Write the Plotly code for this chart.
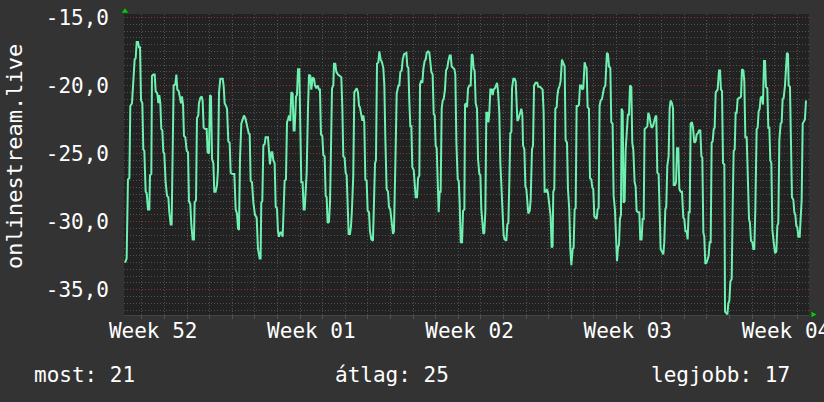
import plotly.graph_objects as go

# ---------------- data (hours since left edge of the graph, value) ----------------
part1 = [(1.1,-33.0),(2.8,-32.7),(4.2,-26.9),(5.7,-26.8),(6.7,-21.5),(8.5,-21.3),(9.9,-19.7),(11.3,-18.1),
         (12.4,-18.0),(13.5,-16.8),(14.9,-16.8),(15.9,-17.2),(17.0,-17.2),(18.1,-21.1),(19.5,-21.3),(20.5,-24.7),
         (21.6,-24.8),(23.0,-27.8),(24.1,-27.9),(25.5,-29.1),(26.9,-29.1),(27.6,-26.6),(29.0,-26.5),(29.7,-19.3),
         (31.2,-19.2),(32.6,-19.2),(33.6,-20.4),(35.4,-20.6),(36.5,-21.3),(37.5,-20.7),(38.6,-21.3),(39.6,-23.2),
         (40.7,-23.3),(41.8,-24.9),(42.8,-25.0),(44.2,-27.1),(45.7,-28.1),(47.1,-28.2),(48.1,-29.3),(49.6,-30.2),
         (50.6,-30.2),(51.7,-25.2),(52.7,-20.0),(54.5,-19.9),(55.6,-19.2),(56.6,-20.3),(58.1,-20.4),(59.5,-20.9),
         (60.5,-21.3),(61.6,-20.8),(62.7,-21.4),(63.7,-23.7),(65.1,-23.8),(66.6,-24.8),(68.0,-24.9),(69.0,-28.5),
         (70.4,-28.7),(71.5,-30.2),(72.9,-31.3),(74.3,-31.3),(75.0,-28.6),(76.5,-28.4),(77.5,-22.4),(78.9,-22.2),
         (79.6,-21.3),(81.1,-20.9),(82.5,-20.8),(83.5,-21.1),(84.6,-23.1),(86.4,-23.2),(87.8,-23.2),(88.8,-24.9),
         (90.3,-25.0),(91.3,-20.7),(92.4,-20.8),(93.5,-25.4),(94.9,-25.7),(95.9,-27.8),(97.3,-27.8),(98.8,-27.3),
         (99.8,-26.2),(100.9,-20.5),(102.3,-19.5),(103.4,-19.5),(104.8,-19.5),(105.8,-20.0),(106.9,-21.3),(108.3,-21.5),
         (109.4,-21.7),(110.8,-24.1),(112.2,-24.2),(113.3,-26.4),(115.0,-26.5),(117.2,-26.5),(118.6,-29.1),(120.0,-29.4),
         (121.1,-30.5),(122.1,-30.6),(123.2,-25.4),(124.6,-22.8),(126.0,-22.5),(127.4,-22.2),(128.9,-22.4),(129.9,-22.8),
         (131.3,-23.1),(132.4,-23.5),(133.5,-23.6),(134.5,-27.0),(135.9,-27.1),(137.4,-28.6),(139.1,-29.5),(140.9,-29.7),
         (142.3,-32.0)]

part2 = [(144.1,-32.7),(145.1,-32.7),(145.8,-28.6),(146.9,-28.5),(148.0,-24.4),(149.4,-24.3),(150.4,-23.8),(152.9,-23.8),
         (154.0,-24.8),(155.0,-25.8),(156.5,-24.9),(157.5,-24.9),(158.6,-25.5),(160.0,-25.7),(161.1,-28.9),(162.5,-29.0),
         (163.5,-30.7),(164.6,-31.1),(166.0,-30.8),(167.4,-30.8),(168.5,-31.1),(169.6,-28.6),(170.6,-27.0),(172.0,-26.9),
         (173.1,-22.7),(174.2,-22.5),(175.2,-22.2),(176.6,-22.6),(177.7,-20.5),(179.1,-20.6),(180.2,-23.3),(181.2,-23.3),
         (182.7,-20.8),(183.7,-20.7),(184.8,-18.8),(186.2,-18.8),(187.3,-22.0),(188.3,-27.1),(189.7,-27.1),(190.8,-29.1),
         (191.9,-29.1),(192.9,-27.1),(194.0,-26.4),(195.4,-21.7),(196.5,-19.2),(197.9,-19.3),(198.9,-20.3),(200.4,-19.4),
         (201.8,-19.5),(202.8,-20.0),(204.3,-20.2),(205.7,-20.0),(207.1,-20.3),(208.1,-20.3),(209.2,-23.6),(210.6,-23.7),
         (211.7,-25.1),(213.1,-25.2),(214.2,-28.1),(215.2,-28.2),(216.3,-30.1),(217.7,-30.0),(218.8,-28.6),(219.8,-24.8),
         (220.9,-20.2),(222.3,-20.0),(223.0,-18.4),(224.4,-18.4),(225.5,-19.0),(227.3,-19.2),(229.0,-19.3),(230.8,-19.4),
         (231.9,-21.7),(232.9,-25.2),(234.3,-25.3),(235.4,-26.4),(236.5,-26.6),(237.5,-28.6),(238.6,-30.9),(240.0,-30.9),
         (241.1,-30.3),(242.1,-29.1),(243.5,-26.6),(244.6,-20.5),(246.0,-20.3),(247.1,-20.2),(248.5,-20.5),(249.6,-21.5),
         (250.6,-21.6),(252.0,-22.2),(253.1,-22.6),(254.2,-22.2),(255.2,-22.7),(256.3,-26.9),(257.7,-27.0),(258.8,-29.2),
         (260.2,-29.3),(261.2,-30.7),(262.7,-31.3),(264.4,-31.4),(265.5,-29.1),(266.6,-25.7),(267.6,-25.5),(268.7,-18.4),
         (270.1,-18.3),(271.2,-17.5),(272.6,-18.1),(274.0,-18.3),(275.4,-18.7),(276.5,-20.0),(277.5,-23.7),(278.9,-27.6),
         (280.4,-27.8),(281.4,-28.9),(282.8,-29.1),(284.3,-30.2),(285.7,-30.9),(286.7,-30.7),(287.4,-27.1),(288.5,-24.7),
         (289.6,-20.6)]

part3 = [(291.4,-20.0),(292.4,-20.0),(293.5,-19.0),(294.9,-18.9),(296.0,-18.1),(297.4,-17.7),(298.8,-17.6),(299.9,-17.6),
         (300.9,-18.6),(302.0,-18.7),(303.1,-21.3),(304.1,-23.0),(305.2,-23.0),(306.2,-26.0),(307.7,-26.2),(308.7,-27.1),
         (309.8,-28.2),(311.2,-28.2),(312.3,-26.8),(313.7,-26.6),(314.4,-19.9),(315.5,-19.7),(316.9,-19.8),(317.9,-18.8),
         (319.3,-18.2),(320.4,-18.1),(321.5,-17.6),(322.9,-17.5),(324.3,-17.6),(325.4,-18.3),(326.4,-19.0),(327.8,-19.2),
         (328.9,-22.1),(330.0,-22.2),(331.0,-24.4),(332.1,-24.6),(333.2,-26.6),(334.2,-29.3),(335.3,-27.8),(336.3,-27.8),
         (337.4,-21.7),(338.5,-21.1),(339.5,-21.0),(340.9,-20.3),(342.0,-18.9),(343.4,-18.7),(344.5,-18.2),(345.9,-17.8),
         (347.0,-17.8),(348.0,-18.6),(349.4,-18.7),(350.9,-18.8),(351.9,-19.2),(353.0,-24.2),(354.4,-26.9),(355.5,-27.0),
         (356.5,-28.6),(357.6,-31.5),(359.0,-31.5),(360.1,-29.2),(361.5,-29.1),(362.2,-21.4),(363.2,-21.3),(364.3,-21.6),
         (365.4,-20.2),(366.8,-20.0),(368.2,-20.0),(369.3,-17.7),(370.3,-17.8),(371.4,-18.8),(372.4,-18.9),(373.5,-21.3),
         (374.9,-21.7),(376.0,-25.4),(377.4,-26.5),(378.5,-26.6),(379.5,-29.1),(380.6,-30.1),(381.7,-30.9),(382.7,-30.8),
         (383.8,-29.2),(384.8,-22.0),(385.9,-22.0),(387.0,-22.7),(388.0,-22.0),(389.1,-20.3),(390.5,-20.3),(391.6,-20.7),
         (392.6,-20.3),(394.0,-20.2),(395.1,-19.9),(396.2,-19.8),(397.2,-20.4),(398.6,-22.0),(399.7,-25.7),(400.8,-27.6),
         (402.2,-30.4),(403.2,-31.0),(404.3,-31.3),(406.1,-31.4),(407.1,-30.2),(408.2,-30.1),(409.3,-26.9),(410.3,-23.5),
         (411.4,-23.4),(412.1,-20.2),(413.5,-19.5),(414.9,-19.5),(416.0,-19.7),(417.1,-21.5),(417.8,-22.6),(418.8,-22.5),
         (419.9,-22.2),(420.9,-22.0),(422.0,-21.7),(423.1,-22.2),(423.8,-24.4),(425.2,-24.7),(426.3,-27.4),(427.3,-27.6),
         (428.4,-28.6),(429.4,-29.4),(430.9,-29.2),(431.9,-28.4),(433.3,-24.7),(434.4,-24.4),(435.5,-20.0)]

part4 = [(437.2,-19.8),(438.9,-19.8),(440.0,-20.1),(441.8,-20.1),(443.2,-20.2),(444.6,-20.3),(445.7,-22.0),(446.7,-27.8),
         (448.1,-27.8),(449.2,-27.6),(450.3,-27.9),(451.7,-29.0),(453.1,-29.6),(454.2,-31.9),(455.2,-31.8),(455.9,-27.8),
         (457.0,-27.6),(458.1,-21.7),(459.5,-21.6),(460.2,-20.8),(461.2,-20.3),(462.7,-20.0),(463.7,-19.7),(465.1,-18.1),
         (466.6,-18.4),(468.0,-18.6),(469.0,-24.0),(470.5,-24.2),(471.5,-27.6),(472.9,-29.1),(474.0,-32.0),(475.1,-33.2),
         (476.5,-32.0),(477.5,-31.9),(478.6,-29.1),(479.7,-29.0),(480.7,-21.5),(482.1,-21.5),(483.2,-21.4),(484.3,-20.0),
         (485.7,-20.0),(486.7,-20.3),(487.8,-20.2),(489.2,-18.3),(490.3,-18.6),(491.3,-18.7),(492.4,-21.6),(493.8,-21.7),
         (494.9,-26.8),(496.3,-26.9),(497.4,-27.5),(498.4,-27.6),(499.5,-29.6),(500.9,-29.7),(502.0,-29.8),(503.0,-29.1),
         (504.1,-29.0),(505.1,-21.5),(506.2,-21.1),(507.6,-21.0),(508.7,-20.4),(509.7,-20.2),(511.2,-20.0),(512.2,-18.9),
         (512.9,-17.6),(514.0,-17.7),(515.1,-18.6),(516.5,-18.7),(517.5,-22.7),(518.9,-22.8),(520.0,-28.1),(521.4,-29.1),
         (522.5,-32.0),(523.6,-32.9),(524.6,-31.9),(525.7,-31.7),(526.7,-29.8),(527.8,-29.5),(528.5,-21.7),(529.6,-21.9),
         (530.6,-28.6),(531.7,-28.5),(532.8,-24.7),(533.8,-23.8),(535.2,-22.1),(536.3,-22.2),(537.4,-20.0),(538.8,-20.1),
         (539.8,-24.2),(540.9,-24.7),(542.3,-27.1),(543.4,-27.4),(544.4,-29.2),(545.9,-29.3),(547.3,-29.3),(548.3,-31.3),
         (549.7,-31.3),(550.8,-29.8),(551.9,-29.8),(552.9,-23.2),(554.3,-23.1),(555.8,-23.0),(556.8,-22.0),(557.9,-22.2),
         (559.3,-22.8),(560.4,-23.1),(561.8,-23.0),(562.8,-22.6),(564.3,-22.3),(565.3,-22.2),(566.4,-26.4),(567.8,-26.5),
         (568.9,-29.1),(569.9,-32.0),(571.3,-32.2),(572.8,-32.4),(573.8,-31.5),(574.9,-29.1),(575.9,-28.9),(577.0,-25.9),
         (578.4,-25.2),(579.5,-21.7),(580.5,-21.1),(582.0,-21.3)]

part5 = [(583.1,-21.7),(583.8,-27.3),(585.2,-27.3),(586.3,-27.1),(587.3,-24.6),(588.7,-24.6),(589.8,-27.6),(591.2,-27.8),
         (592.6,-27.8),(594.0,-29.7),(595.1,-29.8),(596.2,-30.7),(597.6,-30.7),(598.6,-31.3),(599.7,-29.3),(600.8,-29.3),
         (601.8,-22.8),(603.2,-22.7),(604.3,-23.1),(605.7,-24.2),(607.1,-24.1),(608.2,-23.6),(609.6,-23.5),(610.7,-23.3),
         (612.1,-23.3),(613.2,-25.2),(614.2,-25.3),(615.3,-30.8),(616.3,-31.1),(617.4,-33.1),(618.8,-33.0),(619.9,-32.7),
         (620.9,-32.5),(622.0,-31.5),(623.1,-31.5),(624.1,-24.2),(625.2,-24.1),(626.3,-23.2),(627.3,-23.1),(628.4,-20.5),
         (629.4,-20.4),(630.5,-20.3),(631.9,-18.9),(633.0,-18.9),(634.0,-20.3),(635.1,-20.4),(636.2,-25.7),(637.6,-25.8),
         (638.3,-36.6),(639.7,-36.7),(640.8,-36.8),(641.8,-36.0),(642.9,-35.8),(644.0,-34.4),(645.4,-34.2),(646.4,-29.1),
         (647.5,-24.8),(648.6,-24.7),(649.6,-22.0),(650.7,-22.0),(651.7,-21.0),(653.2,-20.9),(654.2,-20.9),(655.3,-20.8),
         (656.3,-18.8),(657.8,-18.9),(658.8,-19.7),(659.9,-23.8),(661.3,-23.8),(662.7,-27.1),(663.8,-29.8),(664.8,-30.1),
         (665.9,-31.4),(667.3,-31.5),(668.4,-32.0),(669.4,-32.0),(670.5,-29.1),(671.9,-23.2),(673.0,-23.1),(674.0,-21.9),
         (675.1,-21.7),(676.2,-20.9),(677.6,-20.8),(678.6,-21.4),(679.7,-18.2),(680.8,-18.2),(681.8,-20.1),(683.2,-20.2),
         (684.3,-23.1),(685.4,-23.1),(686.4,-25.5),(687.5,-25.7),(688.6,-30.6),(690.0,-31.5),(691.4,-32.3),(692.8,-32.2),
         (693.9,-30.3),(694.9,-30.1),(696.0,-24.0),(697.4,-22.8),(698.5,-22.7),(699.5,-21.0),(700.6,-20.9),(702.0,-20.0),
         (703.1,-18.3),(704.1,-17.6),(705.2,-17.7),(705.9,-20.0),(707.3,-20.1),(708.4,-25.7),(709.4,-28.2),(710.9,-28.4),
         (711.9,-29.3),(713.0,-29.5),(714.0,-30.3),(715.1,-30.4),(716.2,-31.1),(717.6,-31.1),(718.6,-29.6),(719.7,-28.4),
         (720.8,-22.8),(722.2,-22.6),(723.2,-22.5),(724.3,-21.1)]

week_labels = ["Week 52", "Week 01", "Week 02", "Week 03", "Week 04"]
week_label_hours = [31, 199, 367, 535, 703]     # mid-week positions (hours)
y_tick_values = [-35, -30, -25, -20, -15]
y_tick_labels = ["-35,0", "-30,0", "-25,0", "-20,0", "-15,0"]
series_name = "onlinestream.live"
stat_names = ["most", "átlag", "legjobb"]
stat_values = [21, 25, 17]

hours = [p[0] for seg in (part1, part2, part3, part4, part5) for p in seg]
values = [p[1] for seg in (part1, part2, part3, part4, part5) for p in seg]

# ---------------- styling ----------------
W, H = 824, 402
PL, PR, PT, PB = 124, 809, 14, 315   # plot box in pixels
X_RANGE = [0, 727.5]
Y_RANGE = [-36.85, -14.75]
BG = "#333333"
CANVAS = "#222222"
GRID = "#505050"
MGRID = "#8a3434"
LINE = "#6DF0B0"
FONT = "DejaVu Sans Mono"
TXT = "#ffffff"

def px_x(px):
    return (px - PL) / (PR - PL)

def px_y(py):
    return (PB - py) / (PB - PT)

fig = go.Figure()
fig.add_trace(go.Scatter(x=hours, y=values, mode="lines",
                         line=dict(color=LINE, width=2), hoverinfo="skip",
                         showlegend=False))

shapes = []
# weekly (major) vertical grid lines at week boundaries
for h in week_label_hours:
    b = h + 84
    if X_RANGE[0] < b < X_RANGE[1]:
        shapes.append(dict(type="line", xref="x", yref="paper", x0=b, x1=b, y0=0, y1=1,
                           line=dict(color=MGRID, width=1, dash="1px,2px"), layer="below"))
# axis arrows
shapes.append(dict(type="path", xref="paper", yref="paper",
                   path=f"M {px_x(121.8)} {px_y(12.8)} L {px_x(128.2)} {px_y(12.8)} L {px_x(125)} {px_y(8.2)} Z",
                   fillcolor="#00d000", line=dict(width=0)))
shapes.append(dict(type="path", xref="paper", yref="paper",
                   path=f"M {px_x(811.5)} {px_y(311.8)} L {px_x(811.5)} {px_y(317.2)} L {px_x(816.5)} {px_y(314.5)} Z",
                   fillcolor="#00d000", line=dict(width=0)))

annotations = [
    dict(text=series_name, x=px_x(14), y=px_y(157), xref="paper", yref="paper",
         textangle=-90, showarrow=False, xanchor="center", yanchor="middle",
         font=dict(family=FONT, size=22, color=TXT)),
    dict(text=f"{stat_names[0]}: {stat_values[0]}", x=px_x(32), y=px_y(375), xref="paper", yref="paper",
         showarrow=False, xanchor="left", yanchor="middle", font=dict(family=FONT, size=21, color=TXT)),
    dict(text=f"{stat_names[1]}: {stat_values[1]}", x=px_x(392), y=px_y(375), xref="paper", yref="paper",
         showarrow=False, xanchor="center", yanchor="middle", font=dict(family=FONT, size=21, color=TXT)),
    dict(text=f"{stat_names[2]}: {stat_values[2]}", x=px_x(792), y=px_y(375), xref="paper", yref="paper",
         showarrow=False, xanchor="right", yanchor="middle", font=dict(family=FONT, size=21, color=TXT)),
]

fig.update_layout(
    width=W, height=H,
    margin=dict(l=PL, r=W - PR, t=PT, b=H - PB, pad=0),
    paper_bgcolor=BG, plot_bgcolor=CANVAS,
    showlegend=False,
    shapes=shapes, annotations=annotations,
    font=dict(family=FONT, size=21, color=TXT),
    xaxis=dict(range=X_RANGE, tickmode="array", tickvals=week_label_hours, ticktext=week_labels,
               showgrid=False, zeroline=False, ticks="", showline=True, linecolor="#444444",
               tickfont=dict(family=FONT, size=21, color=TXT), ticklabelstandoff=-3,
               ticklabeloverflow="allow", automargin=False,
               minor=dict(tickmode="linear", tick0=19, dtick=24, showgrid=True,
                          gridcolor=GRID, griddash="1px,2px", gridwidth=1,
                          ticks="outside", ticklen=3, tickcolor="#555555")),
    yaxis=dict(range=Y_RANGE, tickmode="array", tickvals=y_tick_values, ticktext=y_tick_labels,
               showgrid=True, gridcolor=MGRID, griddash="1px,2px", gridwidth=1,
               zeroline=False, ticks="", showline=False,
               tickfont=dict(family=FONT, size=21, color=TXT), ticklabelstandoff=14,
               ticklabeloverflow="allow", automargin=False,
               minor=dict(tickmode="linear", tick0=-15, dtick=0.5, showgrid=True,
                          gridcolor=GRID, griddash="1px,2px", gridwidth=1)),
)

fig.write_html("out.html", config={"displayModeBar": False},
               post_script="document.body.style.margin='0';document.body.style.overflow='hidden';")
